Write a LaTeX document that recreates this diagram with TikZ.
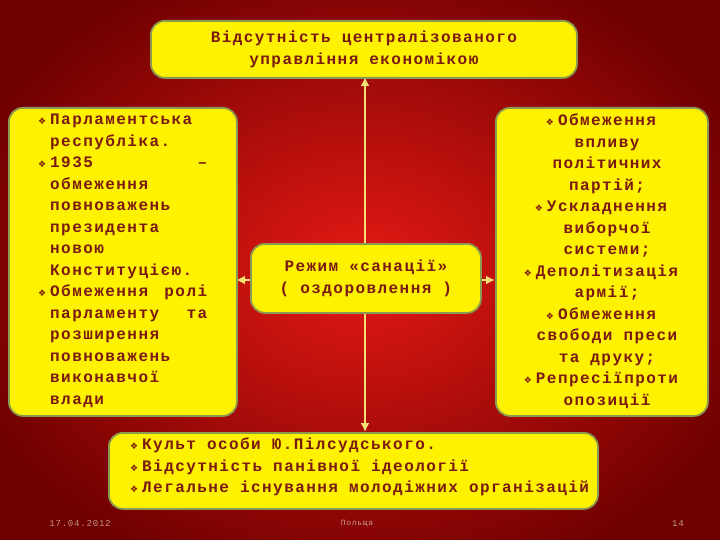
\documentclass[tikz,border=0pt]{standalone}
\usepackage{fontspec}
\setmainfont{Liberation Mono}[BoldFont={Liberation Mono Bold},LetterSpace=9]
\newfontfamily\symf{DejaVu Sans}
\definecolor{txt}{HTML}{7A1A10}
\definecolor{bord}{HTML}{8A9A50}
\definecolor{ln}{HTML}{F2E070}
\newcommand{\bl}{\llap{\textcolor{txt}{\symf\small ❖}\hspace{4pt}}}
\newcommand{\js}[1]{\makebox[\linewidth][l]{#1}}
\tikzset{
 ybox/.style={draw=bord,line width=1.8pt,fill=yellow,rounded corners=14pt},
 tx/.style={text=txt,font=\bfseries\fontsize{16}{21.5}\selectfont,inner sep=0pt},
 conn/.style={ln,line width=2.2pt,-{Latex[length=9pt,width=9pt]}},
}
\usetikzlibrary{arrows.meta}
\begin{document}
\begin{tikzpicture}[x=1pt,y=-1pt]
\useasboundingbox (0,0) rectangle (720,540);
\shade[inner color={rgb,255:red,230;green,25;blue,20},outer color={rgb,255:red,110;green,0;blue,0}] (-60,-60) rectangle (780,600);
\coordinate (vc) at (365,280);
\coordinate (tp) at (365,77);
\coordinate (bp) at (365,432);
\coordinate (lp) at (236,280);
\coordinate (rp) at (495,280);
\draw[conn] (vc) -- (tp);
\draw[conn] (vc) -- (bp);
\draw[conn] (vc) -- (lp);
\draw[conn] (vc) -- (rp);
\node[ybox,minimum width=426,minimum height=57,anchor=north west] (top) at (150,20) {};
\node[ybox,minimum width=228,minimum height=308,anchor=north west] (left) at (8,107) {};
\node[ybox,minimum width=230,minimum height=69,anchor=north west] (mid) at (250,243) {};
\node[ybox,minimum width=212,minimum height=308,anchor=north west] (right) at (495,107) {};
\node[ybox,minimum width=489,minimum height=76,anchor=north west] (bot) at (108,432) {};
\node[tx,align=center] (toptx) at (top.center) {Відсутність централізованого\\управління економікою};
\node[tx,align=center] (midtx) at (mid.center) {Режим «санації»\\( оздоровлення )};
\node[tx,text width=157,align=left,anchor=north west] (lefttx) at (50,114) {%
\bl Парламентська\\республіка.\\\js{\bl 1935\hfill –}\\обмеження\\повноважень\\президента\\новою\\Конституцією.\\\js{\bl Обмеження\hfill ролі}\\\js{парламенту\hfill та}\\розширення\\повноважень\\виконавчої\\влади};
\node[tx,align=center,anchor=north] (righttx) at (607,114) {%
\bl Обмеження\\впливу\\політичних\\партій;\\\bl Ускладнення\\виборчої\\системи;\\\bl Деполітизація\\армії;\\\bl Обмеження\\свободи преси\\та друку;\\\bl Репресіїпроти\\опозиції};
\node[tx,align=left,anchor=north west] (bottx) at (142,438) {%
\bl Культ особи Ю.Пілсудського.\\\bl Відсутність панівної ідеології\\\bl Легальне існування молодіжних організацій};
\node[text={rgb,255:red,200;green,150;blue,140},font=\fontsize{9}{10}\selectfont] (date) at (80,524) {17.04.2012};
\node[text={rgb,255:red,200;green,150;blue,140},font=\fontsize{8}{10}\selectfont] (place) at (357,524) {Польща};
\node[text={rgb,255:red,200;green,150;blue,140},font=\fontsize{9}{10}\selectfont] (num) at (678,524) {14};
\end{tikzpicture}
\end{document}
